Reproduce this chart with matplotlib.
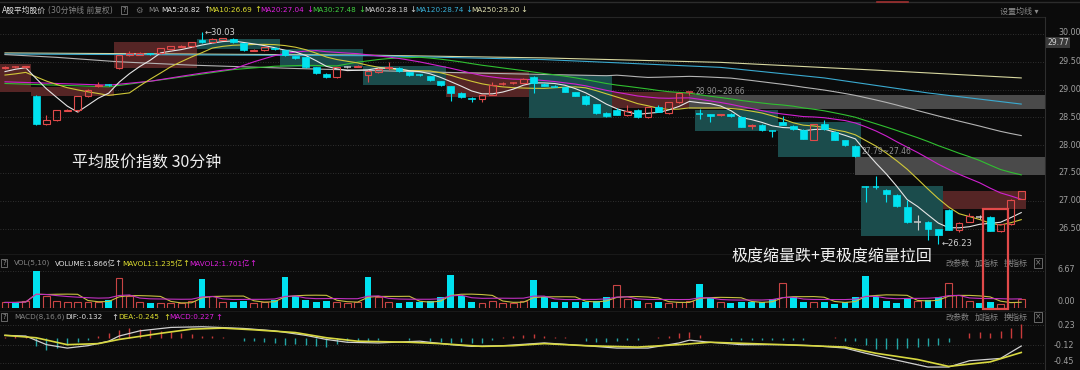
import numpy as np
import pandas as pd
import matplotlib
matplotlib.use("Agg")
import matplotlib.pyplot as plt
from matplotlib.patches import Rectangle
from matplotlib.lines import Line2D

plt.rcParams['font.family'] = ['DejaVu Sans', 'Noto Sans CJK SC']
plt.rcParams['axes.unicode_minus'] = False

# ---- 30 minute candles ----
opens = [29.38, 29.40, 29.40, 28.89, 28.38, 28.45, 28.62, 28.63, 28.88, 29.06,
         29.09, 29.38, 29.63, 29.63, 29.65, 29.65, 29.73, 29.77, 29.78, 29.90,
         29.85, 29.90, 29.91, 29.83, 29.70, 29.71, 29.75, 29.71, 29.60, 29.58,
         29.40, 29.28, 29.22, 29.40, 29.41, 29.27, 29.31, 29.38, 29.39, 29.31,
         29.27, 29.24, 29.15, 29.06, 28.93, 28.85, 28.84, 28.91, 29.09, 29.11,
         29.12, 29.23, 29.10, 29.06, 29.04, 28.95, 28.89, 28.74, 28.58, 28.64,
         28.54, 28.64, 28.50, 28.68, 28.58, 28.77, 28.94, 28.57, 28.56, 28.54,
         28.57, 28.51, 28.34, 28.37, 28.26, 28.41, 28.35, 28.28, 28.10, 28.39,
         28.24, 28.09, 27.99, 27.25, 27.25, 27.20, 27.11, 26.89, 26.62, 26.62,
         26.49, 26.84, 26.47, 26.62, 26.71, 26.71, 26.45, 26.58, 27.04]
highs = [29.43, 29.42, 29.43, 28.90, 28.55, 28.64, 28.65, 28.89, 29.01, 29.13,
         29.10, 29.63, 29.70, 29.67, 29.66, 29.75, 29.79, 29.80, 29.86, 30.03,
         29.93, 29.93, 29.92, 29.84, 29.73, 29.77, 29.76, 29.72, 29.61, 29.59,
         29.41, 29.29, 29.41, 29.42, 29.44, 29.35, 29.38, 29.50, 29.40, 29.32,
         29.28, 29.25, 29.16, 29.07, 28.95, 28.86, 28.92, 29.14, 29.13, 29.13,
         29.20, 29.24, 29.11, 29.09, 29.05, 28.96, 28.90, 28.75, 28.59, 28.67,
         28.72, 28.65, 28.69, 28.72, 28.78, 28.95, 28.96, 28.66, 28.57, 28.57,
         28.58, 28.52, 28.38, 28.38, 28.27, 28.53, 28.36, 28.29, 28.39, 28.45,
         28.25, 28.10, 28.00, 27.27, 27.44, 27.21, 27.12, 27.01, 26.75, 26.63,
         26.50, 26.85, 26.61, 26.78, 26.75, 26.73, 26.59, 27.03, 27.18]
lows = [29.37, 29.39, 29.38, 28.37, 28.37, 28.44, 28.61, 28.60, 28.87, 29.05,
        29.07, 29.37, 29.60, 29.62, 29.63, 29.64, 29.72, 29.77, 29.77, 29.84,
        29.84, 29.89, 29.84, 29.70, 29.69, 29.70, 29.72, 29.61, 29.55, 29.39,
        29.28, 29.21, 29.21, 29.38, 29.40, 29.14, 29.30, 29.36, 29.32, 29.25,
        29.24, 29.16, 29.07, 28.80, 28.85, 28.78, 28.77, 28.90, 29.08, 29.10,
        29.11, 28.94, 29.06, 29.04, 28.95, 28.88, 28.73, 28.57, 28.51, 28.54,
        28.53, 28.49, 28.49, 28.59, 28.57, 28.76, 28.90, 28.48, 28.42, 28.53,
        28.51, 28.32, 28.30, 28.26, 28.15, 28.36, 28.28, 28.11, 28.09, 28.28,
        28.09, 27.99, 27.79, 26.97, 27.22, 26.98, 26.89, 26.60, 26.47, 26.30,
        26.23, 26.47, 26.44, 26.61, 26.68, 26.45, 26.44, 26.57, 27.03]
closes = [29.41, 29.41, 29.42, 28.38, 28.45, 28.63, 28.64, 28.88, 29.00, 29.08,
          29.08, 29.62, 29.65, 29.65, 29.64, 29.74, 29.78, 29.79, 29.85, 29.85,
          29.91, 29.92, 29.85, 29.71, 29.72, 29.76, 29.73, 29.62, 29.56, 29.40,
          29.29, 29.22, 29.40, 29.40, 29.43, 29.33, 29.37, 29.40, 29.33, 29.26,
          29.26, 29.17, 29.08, 28.94, 28.86, 28.83, 28.91, 29.08, 29.10, 29.12,
          29.19, 29.12, 29.07, 29.05, 28.96, 28.89, 28.74, 28.58, 28.52, 28.55,
          28.62, 28.50, 28.68, 28.60, 28.77, 28.94, 28.95, 28.56, 28.52, 28.56,
          28.52, 28.33, 28.37, 28.27, 28.25, 28.37, 28.29, 28.12, 28.38, 28.29,
          28.10, 28.00, 27.80, 27.24, 27.24, 27.12, 26.90, 26.61, 26.62, 26.49,
          26.38, 26.48, 26.60, 26.72, 26.71, 26.46, 26.58, 27.02, 27.17]
prev_closes = [29.20, 29.15, 29.18, 29.22, 29.25, 29.20, 29.28, 29.35, 29.38]

# longer averages (bar index, value)
ma20_head_x = [0, 5, 10, 14, 17]
ma20_head_y = [29.14, 29.11, 29.08, 29.15, 29.24]
ma30_head_x = [0, 5, 10, 16, 22, 26]
ma30_head_y = [29.11, 29.08, 29.05, 29.20, 29.36, 29.42]
ma60_head_x = [0, 5, 11, 18, 28, 40, 50, 58]
ma60_head_y = [29.63, 29.58, 29.50, 29.44, 29.38, 29.32, 29.28, 29.25]
ma120_x = [0, 35, 52, 69, 79, 89, 98]
ma120_y = [29.64, 29.61, 29.54, 29.40, 29.21, 28.94, 28.74]
ma250_x = [0, 35, 52, 69, 84, 98]
ma250_y = [29.66, 29.62, 29.57, 29.49, 29.35, 29.21]

volumes = [1.0, 1.0, 1.25, 6.7, 2.2, 1.25, 1.1, 1.1, 1.1, 1.1,
           1.4, 5.35, 2.2, 1.1, 0.83, 0.95, 0.85, 0.85, 1.25, 5.2,
           2.2, 1.1, 1.0, 1.25, 0.95, 1.0, 1.4, 5.5, 2.15, 1.4,
           1.1, 1.25, 1.1, 0.85, 1.0, 5.5, 2.0, 1.1, 0.85, 1.1,
           1.0, 1.25, 2.0, 6.0, 2.15, 1.1, 0.85, 1.25, 0.95, 0.95,
           1.25, 5.0, 1.9, 1.0, 1.0, 1.1, 1.1, 1.25, 1.9, 4.2,
           1.7, 1.25, 0.85, 1.1, 0.85, 1.0, 1.25, 4.4, 1.85, 1.1,
           0.85, 1.0, 1.1, 1.0, 1.7, 4.5, 1.9, 1.1, 1.1, 1.1,
           0.7, 1.0, 1.9, 5.8, 1.9, 1.25, 0.85, 1.6, 1.25, 1.4,
           1.9, 4.5, 2.3, 1.25, 0.95, 1.0, 0.65, 1.0, 1.6]
vol_colors = ("rcrcrrrrrr" "crrrcrrrrc" "rrccrrcccc" "ccrrrcrrcc" "ccccccrrrr"
              "rccccccccr" "rcrcrrrccr" "cccccrccrc" "ccccccccrc" "crrrccrrr")

macd_hist = [0.02, 0.04, 0.04, -0.14, -0.20, -0.17, -0.11, -0.07, -0.02, 0.05,
             0.09, 0.15, 0.19, 0.16, 0.15, 0.13, 0.11, 0.09, 0.07, 0.05,
             0.04, 0.02, 0.0, -0.05, -0.04, -0.07, -0.08, -0.11, -0.09, -0.11,
             -0.13, -0.15, -0.09, -0.05, -0.04, -0.04, -0.02, 0.0, 0.01, -0.03,
             0.0, -0.05, -0.07, -0.08, -0.07, -0.08, -0.08, -0.02, 0.03, 0.05,
             0.06, 0.07, 0.05, 0.03, 0.02, 0.01, -0.04, -0.06, -0.06, -0.05,
             -0.03, -0.025, 0.0, 0.02, 0.05, 0.09, 0.12, 0.06, 0.01, 0.0,
             -0.025, -0.02, -0.02, -0.03, -0.03, -0.02, -0.025, -0.02, 0.0, 0.0,
             0.02, -0.05, -0.05, -0.12, -0.18, -0.19, -0.18, -0.17, -0.15, -0.13,
             -0.11, -0.06, 0.0, 0.09, 0.12, 0.09, 0.13, 0.19, 0.25]
dif_x = [0, 2, 4, 6, 8, 10, 11, 13, 16, 19, 23, 26, 29, 31, 33, 36, 40, 43, 45, 48,
         52, 56, 59, 62, 65, 66, 68, 71, 75, 78, 81, 83, 86, 89, 91, 93, 96, 98]
dif_y = [0.055, 0.043, -0.108, -0.168, -0.126, -0.047, 0.043, 0.134, 0.194, 0.206,
         0.176, 0.134, 0.055, -0.017, -0.066, -0.078, -0.047, -0.108, -0.138, -0.126,
         -0.078, -0.126, -0.168, -0.168, -0.078, -0.029, -0.066, -0.108, -0.108, -0.126,
         -0.168, -0.259, -0.38, -0.50, -0.50, -0.39, -0.349, -0.132]
dea_x = [0, 3, 6, 9, 11, 15, 18, 21, 24, 28, 31, 34, 39, 42, 46, 49, 52, 56, 61, 65,
         68, 75, 81, 84, 88, 91, 95, 98]
dea_y = [0.055, 0.013, -0.108, -0.090, -0.017, 0.091, 0.164, 0.182, 0.152, 0.104,
         0.013, -0.047, -0.066, -0.090, -0.138, -0.126, -0.090, -0.126, -0.150, -0.108,
         -0.066, -0.108, -0.150, -0.259, -0.368, -0.489, -0.41, -0.245]

# one box per trading day
box_first = [0, 3, 11, 19, 27, 35, 43, 51, 59, 67, 75, 83, 91]
box_last = [2, 10, 18, 26, 34, 42, 50, 58, 66, 74, 82, 90, 98]
box_low = [28.96, 28.88, 29.39, 29.73, 29.41, 29.08, 28.87, 28.49, 28.67, 28.26, 27.79, 26.37, 26.85]
box_high = [29.46, 29.05, 29.86, 29.91, 29.73, 29.42, 29.32, 29.26, 28.96, 28.63, 28.42, 27.27, 27.18]
box_up = [1, 1, 1, 0, 0, 0, 1, 0, 1, 0, 0, 0, 1]

gap_from = [66, 82]
gap_low = [28.66, 27.46]
gap_high = [28.90, 27.79]

BG = '#0b0b0b'
RED = '#e04a4a'
VRED = '#c84444'
CYAN = '#00e2f0'
GRID = '#3c3c3c'
W, H = 1080, 370


def frac(x0, y0, x1, y1):
    return [x0 / W, 1 - y1 / H, (x1 - x0) / W, (y1 - y0) / H]


fig = plt.figure(figsize=(W / 100, H / 100), dpi=100, facecolor=BG)
ax = fig.add_axes(frac(0, 20, 1045, 252))
vax = fig.add_axes(frac(0, 264, 1045, 308))
max_ = fig.add_axes(frac(0, 320, 1045, 370))
for a in (ax, vax, max_):
    a.set_facecolor(BG)
    a.set_xlim(-0.482, 100.29)
    a.set_xticks([])
    a.set_yticks([])
    for s in a.spines.values():
        s.set_visible(False)
ax.set_ylim(26.079, 30.252)
vax.set_ylim(0, 7.93)
max_.set_ylim(-0.552, 0.324)

n = len(closes)
xs = np.arange(n)
BW = 0.66

# grid
for p in np.arange(26.5, 30.01, 0.5):
    ax.axhline(p, color=GRID, ls=(0, (1, 2)), lw=0.6, zorder=0)
    ty = p + 0.035 if p == 30.0 else p
    ax.text(1.0124, ty, f"{p:.2f}", transform=ax.get_yaxis_transform(),
            color='#a0a0a0', fontsize=5.8, va='center', ha='left')
vax.axhline(6.67, color=GRID, ls=(0, (1, 2)), lw=0.6, zorder=0)
for v in (0.23, -0.12, -0.43):
    max_.axhline(v, color=GRID, ls=(0, (1, 2)), lw=0.6, zorder=0)

# day boxes and gaps
for f, l, lo, hi, up in zip(box_first, box_last, box_low, box_high, box_up):
    ax.add_patch(Rectangle((f - 0.5, lo), l - f + 1, hi - lo,
                           facecolor='#552525' if up else '#1b4c4c', edgecolor='none', zorder=1))
for g, lo, hi in zip(gap_from, gap_low, gap_high):
    ax.add_patch(Rectangle((g, lo), 100.29 - g, hi - lo, facecolor='#4a4a4a',
                           edgecolor='none', zorder=1))

# moving averages
close_s = pd.Series(prev_closes + closes)
k = len(prev_closes)
ma5 = close_s.rolling(5, min_periods=1).mean().values[k:]
ma10 = close_s.rolling(10, min_periods=1).mean().values[k:]
cs = pd.Series(closes)
ma20 = ma20_head_x + list(range(19, n)), ma20_head_y + list(cs.rolling(20).mean().values[19:])
ma30 = ma30_head_x + list(range(29, n)), ma30_head_y + list(cs.rolling(30).mean().values[29:])
ma60 = ma60_head_x + list(range(59, n)), ma60_head_y + list(cs.rolling(60).mean().values[59:])

ax.plot(ma250_x, ma250_y, color='#d8d8a0', lw=0.8, zorder=3)
ax.plot(ma120_x, ma120_y, color='#3aaad0', lw=0.8, zorder=3)
ax.plot(*ma60, color='#b4b4b4', lw=0.8, zorder=3)
ax.plot(*ma30, color='#30c030', lw=0.8, zorder=3)
ax.plot(*ma20, color='#d020d0', lw=0.8, zorder=3)
ax.plot(xs, ma10, color='#d0c838', lw=0.8, zorder=3)
ax.plot(xs, ma5, color='#e6e6e6', lw=0.8, zorder=3)

# candles
for i in range(n):
    o, h, l, c = opens[i], highs[i], lows[i], closes[i]
    top, bot = max(o, c), min(o, c)
    if abs(c - o) < 0.012:
        col = '#c8c8c8' if c == o else (RED if c > o else CYAN)
        ax.vlines(i, l, h, color=col, lw=0.8, zorder=5)
        ax.hlines(c, i - BW / 2, i + BW / 2, color=col, lw=1.1, zorder=5)
    elif c > o:
        ax.vlines(i, top, h, color=RED, lw=0.8, zorder=5)
        ax.vlines(i, l, bot, color=RED, lw=0.8, zorder=5)
        ax.add_patch(Rectangle((i - BW / 2, bot), BW, top - bot, facecolor='none',
                               edgecolor=RED, lw=0.8, zorder=5))
    else:
        ax.vlines(i, l, h, color=CYAN, lw=0.8, zorder=5)
        ax.add_patch(Rectangle((i - BW / 2, bot), BW, top - bot, facecolor=CYAN,
                               edgecolor=CYAN, lw=0.5, zorder=5))

ax.text(19.25, 30.03, "←30.03", color='#d0d0d0', fontsize=6, va='center', zorder=6)
ax.text(90.35, 26.23, "←26.23", color='#d0d0d0', fontsize=6, va='center', zorder=6)
ax.text(66.6, 28.97, "28.90~28.66", color='#909090', fontsize=5.5, va='center', zorder=6)
ax.text(82.6, 27.88, "27.79~27.46", color='#909090', fontsize=5.5, va='center', zorder=6)

# volume
for i in range(n):
    if vol_colors[i] == 'r':
        vax.bar(i, volumes[i], width=BW, facecolor='none', edgecolor=VRED, lw=0.8)
    else:
        vax.bar(i, volumes[i], width=BW, color=CYAN, lw=0)
vs = pd.Series(volumes)
vax.plot(xs, vs.rolling(5, min_periods=1).mean(), color='#c8c040', lw=0.8)
vax.plot(xs, vs.rolling(10, min_periods=1).mean(), color='#c030c0', lw=0.8)

# macd
hist_cols = ['#c83a3a' if v > 0 else '#22a4a4' for v in macd_hist]
max_.vlines(xs, 0, macd_hist, colors=hist_cols, lw=1.0)
max_.plot(dif_x, dif_y, color='#d0d0d0', lw=0.9)
max_.plot(dea_x, dea_y, color='#d8d840', lw=1.2)


# header / labels in pixel coordinates
def put(x, y, s, color, size=5.2, **kw):
    fig.text(x / W, 1 - y / H, s, color=color, fontsize=size, va='center', ha='left', **kw)


fig.add_artist(Line2D([0, 1], [1 - 1.5 / H] * 2, color='#2c2c2c', lw=1))
fig.add_artist(Line2D([877 / W, 908 / W], [1 - 1.5 / H] * 2, color='#a03030', lw=1.2))
fig.add_artist(Line2D([0, 1045 / W], [1 - 17 / H] * 2, color='#262626', lw=0.8))
fig.add_artist(Line2D([1045 / W] * 2, [0, 1 - 17 / H], color='#2e2e2e', lw=0.8))
fig.add_artist(Line2D([0, 1045 / W], [1 - 254 / H] * 2, color='#1c1c1c', lw=0.6))
fig.add_artist(Line2D([0, 1045 / W], [1 - 311 / H] * 2, color='#1c1c1c', lw=0.6))

put(2, 10, "A股平均股价", '#e0e0e0', 5.6)
put(48, 10, "(30分钟线 前复权)", '#858585', 5.6)
put(122, 10, "?", '#999999', 5, bbox=dict(boxstyle='square,pad=0.15', fc='none', ec='#777777', lw=0.6))
put(135, 10, "⚙", '#777777', 6)
put(148, 10, "MA", '#888888')
ma_items = [("MA5:26.82", "↑", '#e0e0e0', 161, 203), ("MA10:26.69", "↑", '#e0e030', 208, 254),
            ("MA20:27.04", "↓", '#e020e0', 260, 306), ("MA30:27.48", "↓", '#40d040', 312, 358),
            ("MA60:28.18", "↓", '#d0d0d0', 364, 409), ("MA120:28.74", "↓", '#38b0d8', 415, 465),
            ("MA250:29.20", "↓", '#e0e0b0', 471, 520)]
for s, arr, col, x0, x1 in ma_items:
    put(x0, 10, s, col)
    put(x1, 10, arr, col, 6)
put(1000, 11, "设置均线 ▾", '#8a8a8a', 5.8)
fig.text(1047 / W, 1 - 42.5 / H, "29.77", color='#d0d0d0', fontsize=5.5, va='center', ha='left',
         bbox=dict(boxstyle='square,pad=0.12', fc='#3a3a3a', ec='none'))

# volume header
put(2, 263, "?", '#999999', 5, bbox=dict(boxstyle='square,pad=0.15', fc='none', ec='#777777', lw=0.6))
put(14, 263, "VOL(5,10)", '#858585')
put(55, 263, "VOLUME:1.866亿", '#e0e0e0')
put(114, 263, "↑", '#e0e0e0', 6)
put(122, 263, "MAVOL1:1.235亿", '#e0e030')
put(182, 263, "↑", '#e0e030', 6)
put(189, 263, "MAVOL2:1.701亿", '#e020e0')
put(249, 263, "↑", '#e020e0', 6)
put(1058, 270, "6.67", '#a0a0a0', 5.8)
put(1058, 302, "0.00", '#a0a0a0', 5.8)

# macd header
put(2, 317, "?", '#999999', 5, bbox=dict(boxstyle='square,pad=0.15', fc='none', ec='#777777', lw=0.6))
put(14, 317, "MACD(8,16,6)", '#858585')
put(65, 317, "DIF:-0.132", '#e0e0e0')
put(111, 317, "↑", '#e0e0e0', 6)
put(118, 317, "DEA:-0.245", '#e0e030')
put(163, 317, "↑", '#e0e030', 6)
put(169, 317, "MACD:0.227", '#e020e0')
put(215, 317, "↑", '#e020e0', 6)
put(1058, 325, "0.23", '#a0a0a0', 5.8)
put(1054, 346, "-0.12", '#a0a0a0', 5.8)
put(1054, 362, "-0.45", '#a0a0a0', 5.8)

for yy in (263, 317):
    put(945, yy, "改参数", '#858585', 5.8)
    put(975, yy, "加指标", '#858585', 5.8)
    put(1004, yy, "换指标", '#858585', 5.8)
    put(1035, yy, "×", '#858585', 5.5, bbox=dict(boxstyle='square,pad=0.1', fc='none', ec='#777777', lw=0.6))

# annotations
put(72, 163, "平均股价指数 30分钟", '#f0f0f0', 11.5, family=['Noto Sans CJK SC', 'DejaVu Sans'])
put(731, 257, "极度缩量跌+更极度缩量拉回", '#f0f0f0', 11.5, family=['Noto Sans CJK SC', 'DejaVu Sans'])
fig.add_artist(Rectangle((983 / W, 1 - 309 / H), 25 / W, 100 / H, transform=fig.transFigure,
                         fill=False, edgecolor='#e24a4a', lw=1.6, zorder=10))

fig.savefig("out.png", dpi=100, facecolor=BG)
